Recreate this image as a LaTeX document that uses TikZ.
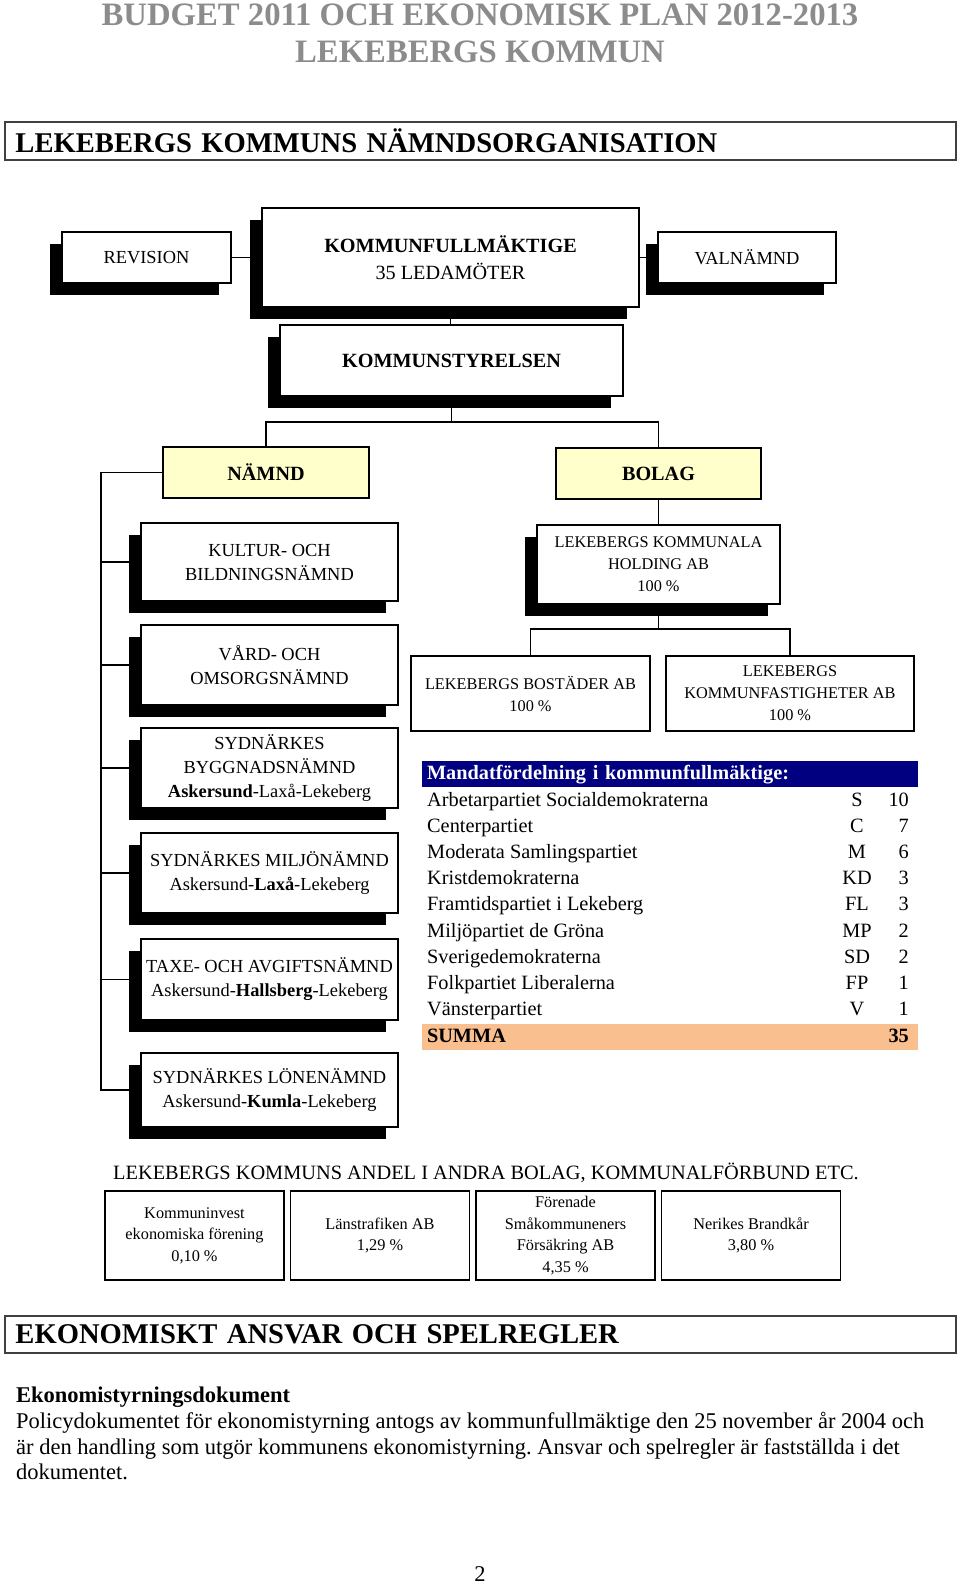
\documentclass[tikz,border=0pt]{standalone}
\usepackage{fontspec}
\setmainfont{Liberation Serif}
\usepackage{tikz}
\usetikzlibrary{positioning, shadows, calc}
\definecolor{lightyellow}{rgb}{1, 1, 0.8}
\definecolor{navyband}{rgb}{0, 0, 0.5}
\definecolor{peachband}{rgb}{0.98, 0.75, 0.56}
\definecolor{titlegray}{rgb}{0.55, 0.55, 0.55}
\newcommand{\doctitlefont}{\fontsize{32.7}{37}\selectfont\bfseries}
\newcommand{\sectionfont}{\fontsize{28.6}{32}\selectfont\bfseries}
\newcommand{\orgfont}{\fontsize{18.4}{24}\selectfont}
\newcommand{\kffont}{\fontsize{20.2}{27}\selectfont}
\newcommand{\compfont}{\fontsize{16.3}{22}\selectfont}
\newcommand{\tabfont}{\fontsize{20.3}{26}\selectfont}
\newcommand{\andelfont}{\fontsize{20.35}{24}\selectfont}
\newcommand{\sharefont}{\fontsize{16.3}{21.5}\selectfont}
\newcommand{\parfont}{\fontsize{22.5}{25.8}\selectfont}
\frenchspacing

\begin{document}
\begin{tikzpicture}[x=1pt, y=-1pt,
    every node/.style={inner sep=0pt, align=center},
    link/.style={line width=1.2pt},
    plainbox/.style={draw, fill=white, line width=1.2pt, font=\orgfont},
    orgbox/.style={plainbox, drop shadow={shadow xshift=-12pt, shadow yshift=-12pt, opacity=1, fill=black}},
    leftbox/.style={orgbox, minimum width=257pt, minimum height=80pt},
    groupbox/.style={plainbox, fill=lightyellow, font=\kffont\bfseries, minimum height=51pt},
    headbox/.style={draw=black!75, line width=1.5pt, text width=930pt, inner xsep=10.5pt, minimum height=38pt, align=left, font=\sectionfont},
    partyrow/.style={font=\tabfont, text height=14pt, text depth=4pt},
    band/.style={partyrow, text width=486pt, inner xsep=5pt, minimum height=26pt, align=left},
    sharebox/.style={draw, line width=1.5pt, minimum width=179pt, minimum height=89pt, font=\sharefont}]
	\path[use as bounding box, fill=white] (0,0) rectangle (960,1586);
	
	\node[font=\doctitlefont, text=titlegray] (title) at (480,33.5) {BUDGET 2011 OCH EKONOMISK PLAN 2012-2013\\LEKEBERGS KOMMUN};
	\node[headbox] (orghead) at (480.5,141) {LEKEBERGS KOMMUNS NÄMNDSORGANISATION};
	
	\node[orgbox, minimum width=377pt, minimum height=99pt, font=\kffont] (kf) at (450.5,257.5) {\textbf{KOMMUNFULLMÄKTIGE}\\35 LEDAMÖTER};
	\node[orgbox, minimum width=169pt, minimum height=51pt] (rev) at (146.5,257.5) {REVISION};
	\node[orgbox, minimum width=178pt, minimum height=51pt] (valn) at (747,257.5) {VALNÄMND};
	\node[orgbox, minimum width=343pt, minimum height=71pt, font=\kffont\bfseries] (ks) at (451.5,360.5) {KOMMUNSTYRELSEN};
	
	\node[groupbox, minimum width=206pt] (namnd) at (266,472.5) {NÄMND};
	\node[groupbox, minimum width=205pt] (bolag) at (658.5,473.5) {BOLAG};
	
	\node[leftbox, minimum height=78pt] (kultur) at (269.5,562) {KULTUR- OCH\\BILDNINGSNÄMND};
	\node[leftbox] (vard) at (269.5,665) {VÅRD- OCH\\OMSORGSNÄMND};
	\node[leftbox] (bygg) at (269.5,768) {SYDNÄRKES\\BYGGNADSNÄMND\\\textbf{Askersund}-Laxå-Lekeberg};
	\node[leftbox] (miljo) at (269.5,873) {SYDNÄRKES MILJÖNÄMND\\Askersund-\textbf{Laxå}-Lekeberg};
	\node[leftbox, minimum height=81pt] (taxe) at (269.5,979.5) {TAXE- OCH AVGIFTSNÄMND\\Askersund-\textbf{Hallsberg}-Lekeberg};
	\node[leftbox, minimum height=74pt] (lone) at (269.5,1090) {SYDNÄRKES LÖNENÄMND\\Askersund-\textbf{Kumla}-Lekeberg};
	
	\node[orgbox, font=\compfont, minimum width=243pt, minimum height=79pt] (holding) at (658.5,564.5) {LEKEBERGS KOMMUNALA\\HOLDING AB\\100 \%};
	\node[plainbox, font=\compfont, minimum width=239pt, minimum height=75pt] (bostader) at (530.5,693.5) {LEKEBERGS BOSTÄDER AB\\100 \%};
	\node[plainbox, font=\compfont, minimum width=248pt, minimum height=75pt] (fast) at (790,693.5) {LEKEBERGS\\KOMMUNFASTIGHETER AB\\100 \%};
	
	\coordinate (ksjoin) at (451.5,422);
	\coordinate (trunk) at (101,472.5);
	\coordinate (holdjoin) at (658.5,629);
	\draw[link] (rev) -- (kf);
	\draw[link] (kf) -- (valn);
	\draw[link] (kf.south) -- (kf.south |- ks.north);
	\draw[link] (ks.south) -- (ks.south |- ksjoin);
	\draw[link] (namnd.north) |- (ksjoin) -| (bolag.north);
	\draw[link] (namnd.west) -- (trunk) |- (lone.west);
	\foreach \b in {kultur, vard, bygg, miljo, taxe}
		\draw[link] (trunk |- \b.west) -- (\b.west);
	\draw[link] (bolag) -- (holding);
	\draw[link] (holding.south) -- (holdjoin);
	\draw[link] (bostader.north) |- (holdjoin) -| (fast.north);
	
	\node[band, fill=navyband, text=white, font=\tabfont\bfseries] (mandat) at (670,774) {Mandatfördelning i kommunfullmäktige:};
	\foreach \party/\abbr/\seats [count=\i from 0] in {Arbetarpartiet Socialdemokraterna/S/10, Centerpartiet/C/7, Moderata Samlingspartiet/M/6, Kristdemokraterna/KD/3, Framtidspartiet i Lekeberg/FL/3, Miljöpartiet de Gröna/MP/2, Sverigedemokraterna/SD/2, Folkpartiet Liberalerna/FP/1, Vänsterpartiet/V/1} {
		\node[partyrow, anchor=west] (party\i) at (427,{801+26.2*\i}) {\party};
		\node[partyrow] (abbr\i) at (857,{801+26.2*\i}) {\abbr};
		\node[partyrow, anchor=east] (seats\i) at (909,{801+26.2*\i}) {\seats};
	}
	\node[band, fill=peachband, font=\tabfont\bfseries] (summa) at (670,1037) {SUMMA};
	\node[partyrow, anchor=east, font=\tabfont\bfseries] (summaseats) at (909,1037) {35};
	
	\node[font=\andelfont] (andel) at (486,1173) {LEKEBERGS KOMMUNS ANDEL I ANDRA BOLAG, KOMMUNALFÖRBUND ETC.};
	\node[sharebox] (share1) at (194.5,1235.5) {Kommuninvest\\ekonomiska förening\\0,10 \%};
	\node[sharebox, right=5pt of share1] (share2) {Länstrafiken AB\\1,29 \%};
	\node[sharebox, right=5pt of share2] (share3) {Förenade\\Småkommuneners\\Försäkring AB\\4,35 \%};
	\node[sharebox, right=5pt of share3] (share4) {Nerikes Brandkår\\3,80 \%};
	
	\node[headbox, minimum height=37pt] (ekohead) at (480.5,1334.5) {EKONOMISKT ANSVAR OCH SPELREGLER};
	\node[anchor=west, align=left, font=\parfont] (policy) at (16,1433.5) {\textbf{Ekonomistyrningsdokument}\\Policydokumentet för ekonomistyrning antogs av kommunfullmäktige den 25 november år 2004 och\\är den handling som utgör kommunens ekonomistyrning. Ansvar och spelregler är fastställda i det\\dokumentet.};
	\node[font=\parfont] (pagenum) at (480,1574) {2};
\end{tikzpicture}
\end{document}
